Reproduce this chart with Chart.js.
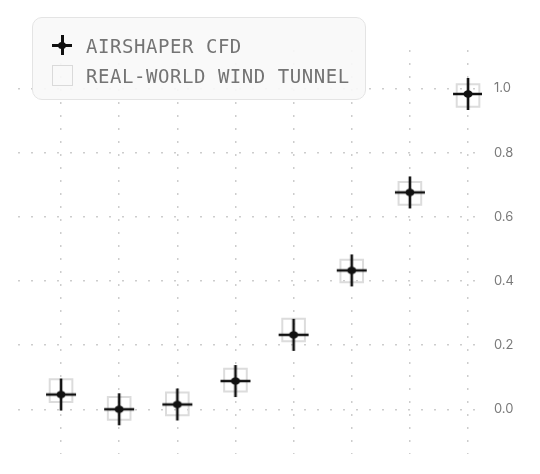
<!DOCTYPE html>
<html lang="en">
<head>
<meta charset="utf-8">
<title>CFD vs wind tunnel</title>
<script src="https://cdn.jsdelivr.net/npm/chart.js@4"></script>
<style>
  body { margin: 0; background: #fff; }
  .wrap { position: relative; width: 540px; height: 474px; }
  .legend {
    position: absolute; left: 32px; top: 17px; width: 334px; height: 83px;
    box-sizing: border-box; border: 1px solid #e4e4e4; border-radius: 10px;
    background: rgba(248, 248, 248, 0.92);
    font-family: "DejaVu Sans Mono", monospace; font-size: 19px; letter-spacing: 0.55px;
    color: #747474;
  }
  .item { position: absolute; left: 53px; line-height: 20px; white-space: nowrap; }
  .cross { position: absolute; left: 19px; top: 17px; width: 20px; height: 20px; }
  .cross:before, .cross:after { content: ""; position: absolute; background: #111; }
  .cross:before { left: 0; top: 9px; width: 20px; height: 3px; }
  .cross:after { left: 8.5px; top: 0; width: 3px; height: 20px; }
  .cross span { position: absolute; left: 6px; top: 6.5px; width: 8px; height: 7px; border-radius: 50%; background: #111; }
  .box { position: absolute; left: 19px; top: 47px; width: 21px; height: 21px; box-sizing: border-box; border: 1.5px solid #dadada; }
</style>
</head>
<body>
<div class="wrap">
  <canvas id="chart"></canvas>
  <div class="legend">
    <div class="cross"><span></span></div>
    <div class="item" style="top: 18px;">AIRSHAPER CFD</div>
    <div class="box"></div>
    <div class="item" style="top: 48px;">REAL-WORLD WIND TUNNEL</div>
  </div>
</div>
<script>
// one point per test configuration
var runs = [1, 2, 3, 4, 5, 6, 7, 8];
var cfdValues = [0.046, 0.0, 0.015, 0.088, 0.232, 0.433, 0.676, 0.983];
var tunnelValues = [0.058, 0.003, 0.017, 0.091, 0.247, 0.431, 0.673, 0.978];
var yTicks = [0, 0.2, 0.4, 0.6, 0.8, 1.0];

function toPoints(vals) {
  return runs.map(function(r, i) { return { x: r, y: vals[i] }; });
}

// cross with a dot in the middle, used as the CFD marker
var crossImg = document.createElement('canvas');
crossImg.width = 34; crossImg.height = 34;
var c = crossImg.getContext('2d');
c.strokeStyle = '#111';
c.lineWidth = 2.6;
c.beginPath();
c.moveTo(2, 17); c.lineTo(32, 17);
c.moveTo(17, 1); c.lineTo(17, 33);
c.stroke();
c.fillStyle = '#111';
c.beginPath();
c.ellipse(17, 17, 4.5, 3.8, 0, 0, Math.PI * 2);
c.fill();

var gridDash = [2, 11];

var ctx = document.getElementById('chart').getContext('2d');
var chart = new Chart(ctx, {
  type: 'scatter',
  data: {
    datasets: [{
      label: 'AIRSHAPER CFD',
      data: toPoints(cfdValues),
      pointStyle: crossImg,
      pointRadius: 15,
      order: 1
    }, {
      label: 'REAL-WORLD WIND TUNNEL',
      data: toPoints(tunnelValues),
      pointStyle: 'rect',
      pointRadius: 16,
      borderWidth: 2,
      borderColor: '#dcdcdc',
      backgroundColor: 'rgba(255,255,255,0)',
      order: 2
    }]
  },
  options: {
    responsive: true,
    maintainAspectRatio: false,
    animation: false,
    events: [],
    layout: { padding: { left: 0, top: 50, right: 14, bottom: 19 } },
    plugins: {
      legend: { display: false },
      tooltip: { enabled: false }
    },
    scales: {
      x: {
        type: 'linear',
        min: 0.26,
        max: 8.24,
        ticks: { display: false, stepSize: 1, includeBounds: false },
        grid: { color: '#cdcdcd', lineWidth: 1.5, drawTicks: false },
        border: { display: false, dash: gridDash }
      },
      y: {
        position: 'right',
        min: -0.14,
        max: 1.12,
        afterBuildTicks: function(scale) {
          scale.ticks = yTicks.map(function(v) { return { value: v }; });
        },
        ticks: {
          padding: 12,
          color: '#7a7a7a',
          font: { family: 'Inter', size: 13 },
          callback: function(v) { return Math.abs(v).toFixed(1); }
        },
        grid: { color: '#cdcdcd', lineWidth: 1.5, drawTicks: false },
        border: { display: false, dash: gridDash }
      }
    }
  }
});
</script>
</body>
</html>
